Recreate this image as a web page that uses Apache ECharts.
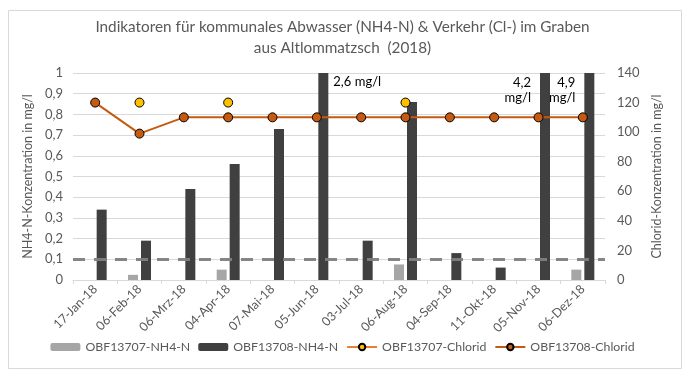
<!DOCTYPE html>
<html>
<head>
<meta charset="utf-8">
<script src="https://cdn.jsdelivr.net/npm/echarts@6/dist/echarts.min.js"></script>
<style>
  html, body { margin: 0; padding: 0; background: #ffffff; }
  #chart { width: 685px; height: 371px; }
</style>
</head>
<body>
<div id="chart"></div>
<script>
// Sampling dates (Graben Altlommatzsch, 2018)
const dates = ['17-Jan-18', '06-Feb-18', '06-Mrz-18', '04-Apr-18', '07-Mai-18', '05-Jun-18',
               '03-Jul-18', '06-Aug-18', '04-Sep-18', '11-Okt-18', '05-Nov-18', '06-Dez-18'];

// NH4-N in mg/l (left axis)
const nh4_OBF13707 = [null, 0.025, null, 0.05, null, null, null, 0.075, null, null, null, 0.05];
const nh4_OBF13708 = [0.34, 0.19, 0.44, 0.56, 0.73, 2.6, 0.19, 0.86, 0.13, 0.06, 4.2, 4.9];

// Chlorid in mg/l (right axis)
const cl_OBF13707 = [null, 120, null, 120, null, null, null, 120, null, null, null, null];
const cl_OBF13708 = [120, 99, 110, 110, 110, 110, 110, 110, 110, 110, 110, 110];

// Reference level for NH4-N (dashed line)
const nh4Level = 0.105;

// Left axis range; bars above it are cut off and carry their value as text
const nh4Max = 1;

const FONT = 'Lato, "Open Sans", sans-serif';
const GREY = '#595959';

const fmt = v => String(v).replace('.', ',');

// Bars that run past the top of the axis get a value label
const dark = nh4_OBF13708.map((v, i) => {
  if (v <= nh4Max) return v;
  const twoLines = i >= 10;
  return {
    value: v,
    label: {
      show: true,
      formatter: twoLines ? fmt(v) + '\nmg/l' : fmt(v) + ' mg/l',
      position: twoLines ? [-9, 2] : [15, 1],
      align: twoLines ? 'right' : 'left',
      verticalAlign: 'top',
      color: '#000000',
      fontSize: 13,
      lineHeight: 15,
      fontFamily: FONT
    }
  };
});

const chart = echarts.init(document.getElementById('chart'), null, { renderer: 'canvas' });

chart.setOption({
  backgroundColor: '#ffffff',
  animation: false,
  title: {
    text: 'Indikatoren für kommunales Abwasser (NH4-N) & Verkehr (Cl-) im Graben\naus Altlommatzsch  (2018)',
    left: 'center',
    top: 12,
    textStyle: { color: GREY, fontSize: 15.3, fontWeight: 'normal', fontFamily: FONT, lineHeight: 21 }
  },
  graphic: [{
    type: 'rect',
    shape: { x: 8.5, y: 10.5, width: 673, height: 358 },
    style: { fill: 'none', stroke: '#d9d9d9', lineWidth: 1 },
    silent: true
  }],
  legend: {
    bottom: 13,
    left: 'center',
    itemWidth: 30,
    itemHeight: 8,
    itemGap: 8,
    textStyle: { color: GREY, fontSize: 12.3, fontFamily: FONT },
    data: ['OBF13707-NH4-N', 'OBF13708-NH4-N', 'OBF13707-Chlorid', 'OBF13708-Chlorid']
  },
  grid: { left: 73, right: 80, top: 73, bottom: 91, containLabel: false },
  xAxis: {
    type: 'category',
    data: dates,
    boundaryGap: true,
    axisLine: { lineStyle: { color: '#d9d9d9', width: 1 } },
    axisTick: { show: true, length: 4, lineStyle: { color: '#d9d9d9' } },
    axisLabel: { rotate: 45, color: GREY, fontSize: 12.5, fontFamily: FONT, margin: 7, interval: 0 }
  },
  yAxis: [{
    type: 'value',
    min: 0, max: nh4Max, interval: 0.1,
    name: 'NH4-N-Konzentration in mg/l',
    nameLocation: 'middle',
    nameGap: 34,
    nameTextStyle: { color: GREY, fontSize: 12.5, fontFamily: FONT },
    axisLine: { show: false },
    axisTick: { show: false },
    axisLabel: { color: GREY, fontSize: 13, fontFamily: FONT, margin: 10, formatter: v => fmt(Math.round(v * 10) / 10) },
    splitLine: { lineStyle: { color: '#d9d9d9', width: 1 } }
  }, {
    type: 'value',
    min: 0, max: 140, interval: 20,
    name: 'Chlorid-Konzentration in mg/l',
    nameLocation: 'middle',
    nameGap: 42,
    nameRotate: 90,
    nameTextStyle: { color: GREY, fontSize: 12.5, fontFamily: FONT },
    axisLine: { show: false },
    axisTick: { show: false },
    axisLabel: { color: GREY, fontSize: 13, fontFamily: FONT, margin: 12 },
    splitLine: { show: false }
  }],
  series: [{
    name: 'OBF13707-NH4-N',
    type: 'bar',
    yAxisIndex: 0,
    data: nh4_OBF13707,
    barWidth: 10,
    barGap: '30%',
    itemStyle: { color: '#a6a6a6' }
  }, {
    name: 'OBF13708-NH4-N',
    type: 'bar',
    yAxisIndex: 0,
    data: dark,
    barWidth: 10,
    barGap: '30%',
    itemStyle: { color: '#404040' },
    markLine: {
      silent: true,
      symbol: 'none',
      label: { show: false },
      lineStyle: { color: '#808080', type: [12, 9], width: 3, opacity: 0.95 },
      data: [{ yAxis: nh4Level }],
      z: 5
    }
  }, {
    name: 'OBF13707-Chlorid',
    type: 'line',
    yAxisIndex: 1,
    data: cl_OBF13707,
    connectNulls: false,
    symbol: 'circle',
    symbolSize: 9,
    lineStyle: { color: '#ed7d31', width: 2 },
    itemStyle: { color: '#ffc000', borderColor: '#000000', borderWidth: 1 },
    z: 4
  }, {
    name: 'OBF13708-Chlorid',
    type: 'line',
    yAxisIndex: 1,
    data: cl_OBF13708,
    symbol: 'circle',
    symbolSize: 9,
    lineStyle: { color: '#c55a11', width: 2 },
    itemStyle: { color: '#c55a11', borderColor: '#000000', borderWidth: 1 },
    z: 4
  }]
});
</script>
</body>
</html>
